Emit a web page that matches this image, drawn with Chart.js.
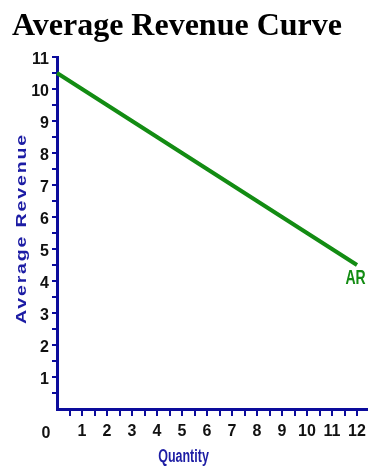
<!DOCTYPE html>
<html><head><meta charset="utf-8">
<script src="https://cdn.jsdelivr.net/npm/chart.js@4/dist/chart.umd.min.js"></script>
<style>html,body{margin:0;padding:0;background:#fff}#wrap{position:relative;width:368px;height:470px}</style>
</head><body><div id="wrap"><canvas id="c"></canvas></div>
<script>
// ---- data ----
const chartTitle = 'Average Revenue Curve';
const xAxisTitle = 'Quantity';
const yAxisTitle = 'Average Revenue';
const seriesLabel = 'AR';
const quantity = [0, 1, 2, 3, 4, 5, 6, 7, 8, 9, 10, 11, 12];
const averageRevenue = [10.5, 10, 9.5, 9, 8.5, 8, 7.5, 7, 6.5, 6, 5.5, 5, 4.5];
const xTickLabels = ['1','2','3','4','5','6','7','8','9','10','11','12'];
const yTickLabels = ['1','2','3','4','5','6','7','8','9','10','11'];
const originLabel = '0';
const xRange = [0, 12.4];
const yRange = [0, 11];
const tickStep = 0.5;

// ---- styles ----
const AXIS_BLUE = '#0c0c9c';
const TITLE_BLUE = '#1c1ca4';
const LINE_GREEN = '#138c13';
const TICK_FONT_X = {family: '"Liberation Sans Narrow", "Liberation Sans", Arial, sans-serif', size: 16, weight: 'bold'};
const TICK_FONT_Y = {family: '"Liberation Sans", Arial, sans-serif', size: 16, weight: 'bold'};

// tick marks every half unit, up to the last labelled value
const halfTicks = (labels) => (scale) => {
  const out = [];
  for (let k = 1; k <= labels.length * 2; k++) out.push({value: k * tickStep});
  scale.ticks = out;
};

const textPlugin = {
  id: 'texts',
  afterDraw(chart) {
    const ctx = chart.ctx;
    const xs = chart.scales.x, ys = chart.scales.y;
    ctx.save();
    // main title
    ctx.fillStyle = '#000';
    ctx.font = 'bold 32px "Liberation Serif", "Times New Roman", serif';
    ctx.textAlign = 'left';
    ctx.textBaseline = 'alphabetic';
    ctx.fillText(chartTitle, 12, 35);

    // y axis title (rotated, stretched)
    ctx.save();
    ctx.translate(22, (ys.top + ys.bottom) / 2 - 4.5);
    ctx.rotate(-Math.PI / 2);
    ctx.scale(1.4, 1);
    ctx.fillStyle = TITLE_BLUE;
    ctx.font = 'bold 14px "Liberation Sans", Arial, sans-serif';
    ctx.letterSpacing = '1.3px';
    ctx.textAlign = 'center';
    ctx.textBaseline = 'middle';
    ctx.fillText(yAxisTitle, 0, 0);
    ctx.restore();

    // x axis title
    ctx.save();
    ctx.translate((xs.left + xs.right) / 2 - 28.5, 462);
    ctx.scale(1, 1.4);
    ctx.fillStyle = TITLE_BLUE;
    ctx.font = 'bold 12.5px "Liberation Sans", Arial, sans-serif';
    ctx.textAlign = 'center';
    ctx.textBaseline = 'alphabetic';
    ctx.fillText(xAxisTitle, 0, 0);
    ctx.restore();

    // origin label
    ctx.fillStyle = '#111';
    ctx.font = 'bold 16px "Liberation Sans Narrow", "Liberation Sans", Arial, sans-serif';
    ctx.textAlign = 'center';
    ctx.textBaseline = 'alphabetic';
    ctx.fillText(originLabel, xs.left - 11, 438);

    // series label at end of line
    const meta = chart.getDatasetMeta(0);
    const last = meta.data[meta.data.length - 1];
    ctx.save();
    ctx.translate(last.x - 1.5, last.y + 19);
    ctx.scale(1, 1.45);
    ctx.fillStyle = LINE_GREEN;
    ctx.font = 'bold 14px "Liberation Sans", Arial, sans-serif';
    ctx.textAlign = 'center';
    ctx.textBaseline = 'alphabetic';
    ctx.fillText(seriesLabel, 0, 0);
    ctx.restore();
    ctx.restore();
  }
};

new Chart(document.getElementById('c'), {
  type: 'scatter',
  data: {
    datasets: [{
      label: seriesLabel,
      data: quantity.map((q, i) => ({x: q, y: averageRevenue[i]})),
      showLine: true,
      borderColor: LINE_GREEN,
      backgroundColor: LINE_GREEN,
      borderWidth: 4,
      pointRadius: 0,
      clip: false
    }]
  },
  options: {
    responsive: true,
    maintainAspectRatio: false,
    animation: false,
    devicePixelRatio: 1,
    layout: {padding: {top: 57, right: 1, left: 0, bottom: 0}},
    plugins: {legend: {display: false}, tooltip: {enabled: false}, title: {display: false}},
    scales: {
      x: {
        type: 'linear', min: xRange[0], max: xRange[1],
        afterBuildTicks: halfTicks(xTickLabels),
        afterFit: (s) => { s.height = 61; s.paddingRight = 0; s.paddingLeft = 0; },
        ticks: {
          autoSkip: false, maxRotation: 0, padding: 6,
          color: '#111', font: TICK_FONT_X,
          callback: (v) => Number.isInteger(v) ? (xTickLabels[v - 1] ?? '') : ''
        },
        grid: {drawOnChartArea: false, drawTicks: true, tickLength: 7, color: AXIS_BLUE, lineWidth: 2},
        border: {display: true, color: AXIS_BLUE, width: 3}
      },
      y: {
        type: 'linear', min: yRange[0], max: yRange[1],
        afterBuildTicks: halfTicks(yTickLabels),
        afterFit: (s) => { s.width = 57; s.paddingTop = 0; s.paddingBottom = 0; },
        ticks: {
          autoSkip: false, padding: 3, labelOffset: 3,
          color: '#111', font: TICK_FONT_Y,
          callback: (v) => Number.isInteger(v) ? (yTickLabels[v - 1] ?? '') : ''
        },
        grid: {drawOnChartArea: false, drawTicks: true, tickLength: 5, color: AXIS_BLUE, lineWidth: 2},
        border: {display: true, color: AXIS_BLUE, width: 3}
      }
    }
  },
  plugins: [textPlugin]
});
</script>
</body></html>
